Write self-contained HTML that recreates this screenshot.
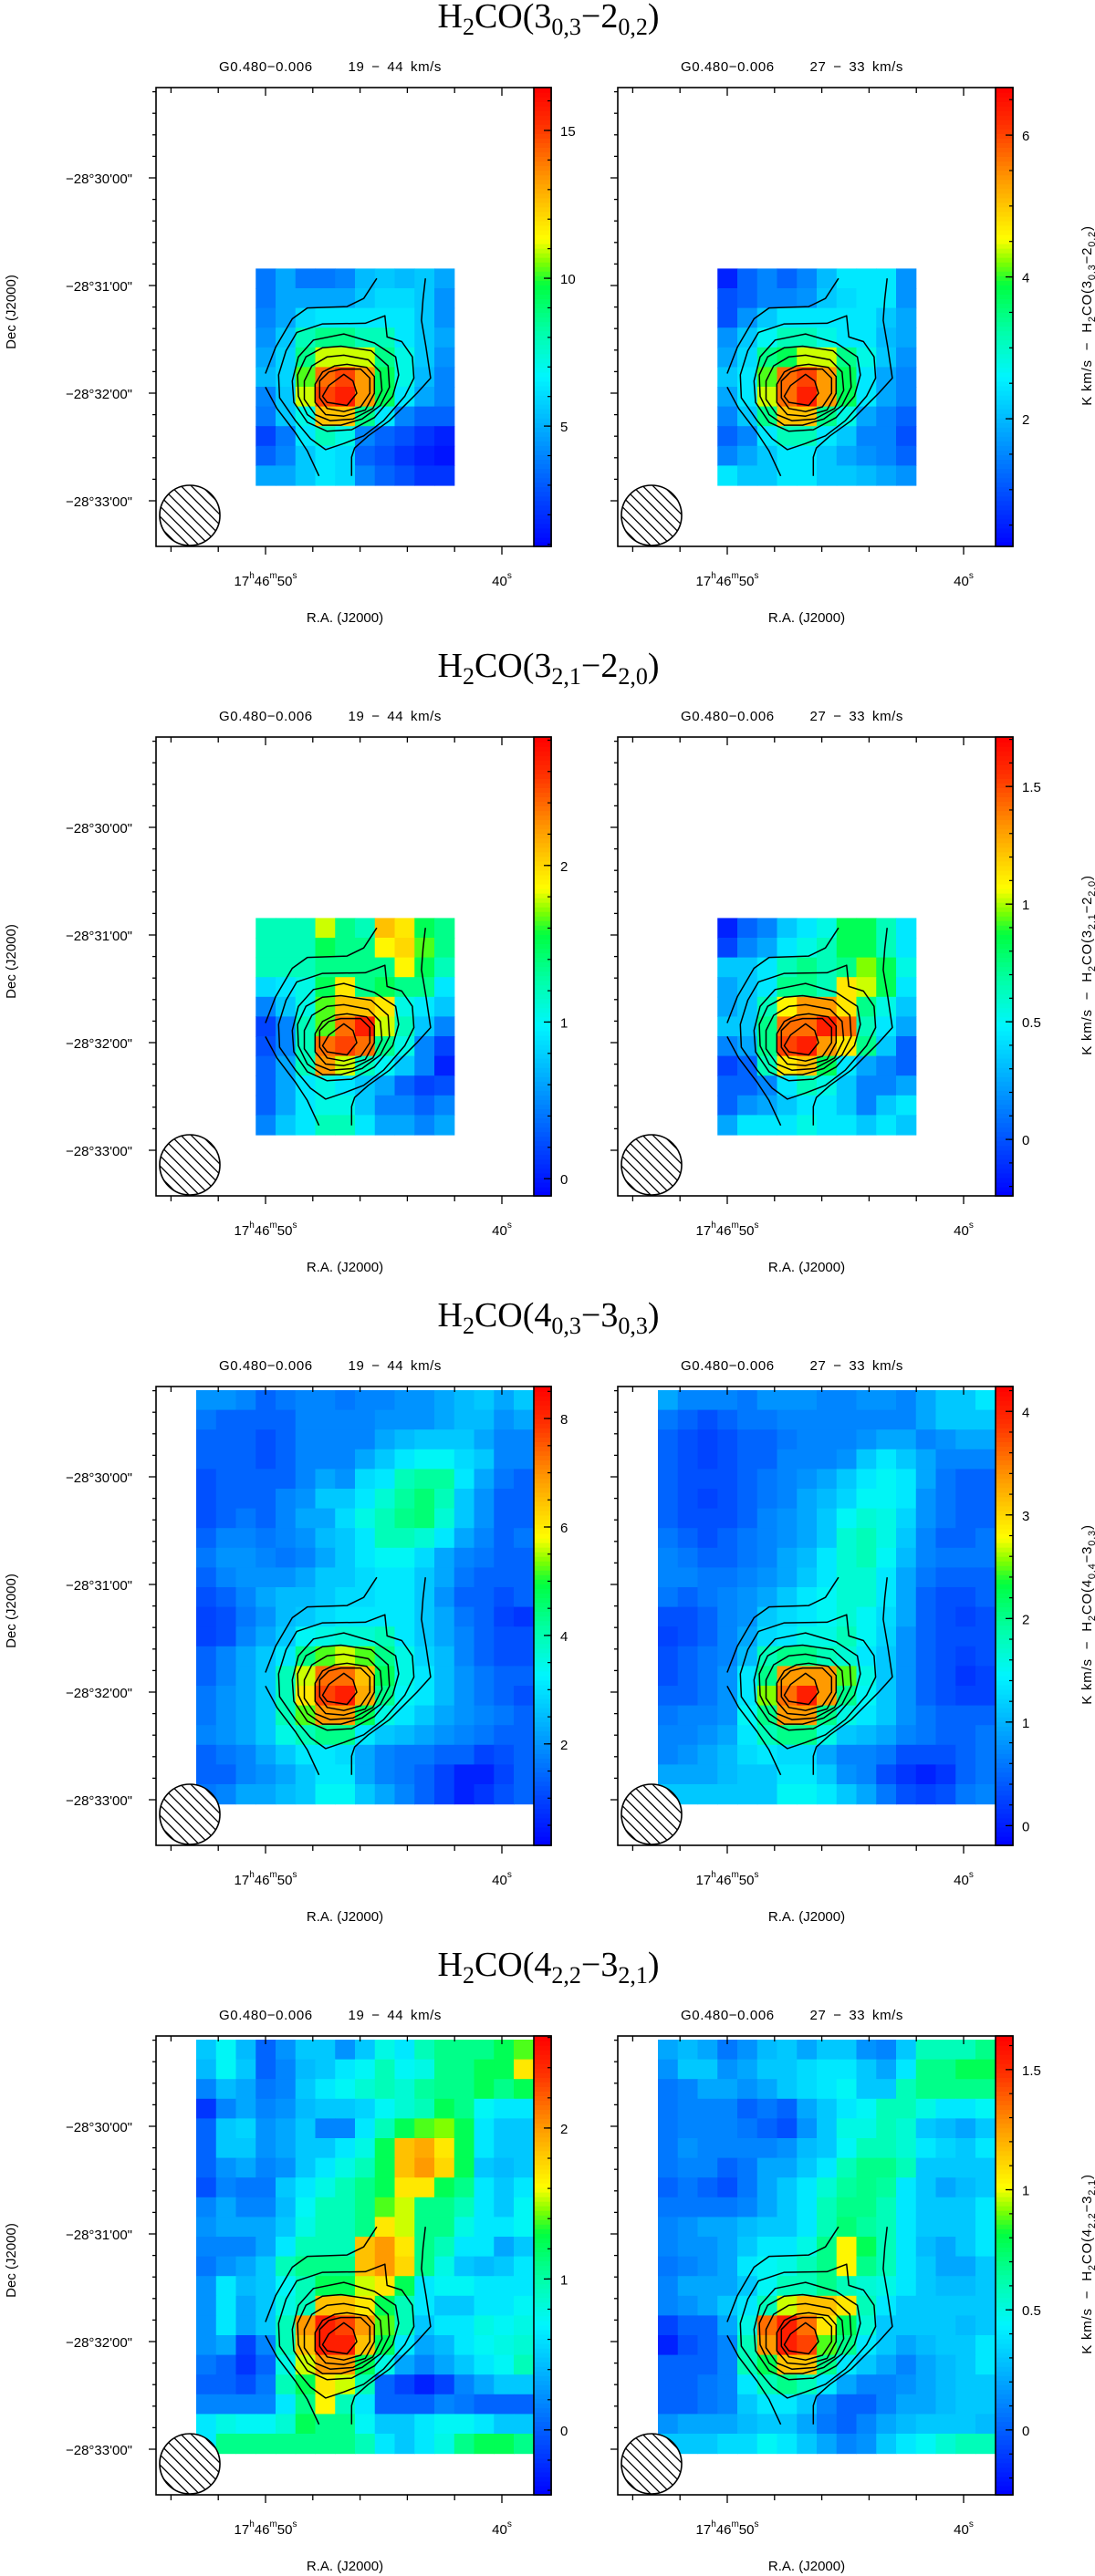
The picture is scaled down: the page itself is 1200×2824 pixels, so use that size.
<!DOCTYPE html>
<html><head><meta charset="utf-8">
<style>
html,body{margin:0;padding:0;background:#fff;}
svg{display:block;}
.ax{font-family:"Liberation Sans",sans-serif;font-size:15px;fill:#000;}
.ttl{font-family:"Liberation Serif",serif;font-size:38px;fill:#000;}
</style></head>
<body>
<svg id="fig" width="1200" height="2824" viewBox="0 0 1200 2824" xmlns="http://www.w3.org/2000/svg">
<defs>
<clipPath id="beamclip"><circle cx="0" cy="0" r="33"/></clipPath>
</defs>
</svg>
<script>
// ---- data (normalized intensity levels 0..1 of each colour-bar range) ----
const m30a=[[.18,.25,.18,.18,.2,.28,.3,.28,.3,.25],[.18,.25,.25,.25,.25,.3,.33,.33,.3,.22],[.2,.25,.33,.35,.35,.35,.35,.35,.3,.22],[.22,.3,.45,.5,.5,.45,.45,.35,.3,.25],[.25,.32,.5,.65,.65,.65,.5,.4,.3,.22],[.28,.32,.6,.85,.9,.8,.55,.4,.28,.2],[.2,.3,.65,.9,.95,.8,.55,.35,.25,.2],[.18,.3,.4,.75,.75,.5,.35,.2,.15,.15],[.1,.18,.35,.45,.4,.2,.15,.12,.08,.05],[.15,.2,.3,.35,.33,.15,.12,.08,.05,.03],[.25,.25,.3,.35,.33,.2,.15,.12,.08,.08]];
const m30b=[[.05,.15,.2,.15,.2,.28,.35,.35,.35,.22],[.12,.15,.2,.2,.22,.3,.33,.35,.35,.22],[.12,.22,.3,.35,.35,.35,.35,.35,.3,.25],[.22,.3,.38,.45,.45,.4,.35,.35,.28,.25],[.25,.33,.5,.55,.65,.65,.5,.4,.3,.22],[.3,.35,.6,.85,.9,.8,.55,.35,.25,.2],[.25,.35,.65,.85,.95,.8,.55,.35,.25,.2],[.2,.3,.5,.75,.75,.5,.4,.25,.2,.15],[.15,.2,.35,.45,.45,.35,.3,.2,.2,.12],[.2,.25,.3,.35,.35,.3,.25,.22,.2,.15],[.35,.3,.3,.35,.35,.3,.3,.28,.25,.22]];
const m32a=[[.45,.45,.45,.65,.5,.45,.75,.7,.55,.5],[.45,.45,.45,.55,.5,.5,.68,.72,.6,.5],[.45,.45,.45,.5,.5,.5,.5,.68,.55,.45],[.33,.35,.4,.55,.7,.5,.55,.5,.5,.35],[.2,.3,.4,.6,.75,.75,.7,.4,.35,.3],[.1,.2,.45,.6,.85,.95,.65,.45,.3,.2],[.12,.2,.45,.85,.9,.85,.5,.4,.2,.1],[.15,.25,.45,.8,.65,.45,.38,.3,.2,.05],[.15,.25,.35,.4,.35,.3,.25,.15,.1,.12],[.15,.25,.35,.4,.4,.3,.2,.2,.15,.2],[.2,.3,.35,.45,.45,.35,.25,.25,.2,.25]];
const m32b=[[.05,.15,.2,.3,.35,.4,.55,.55,.45,.35],[.1,.2,.25,.35,.4,.45,.55,.55,.45,.35],[.3,.3,.35,.45,.5,.45,.5,.62,.55,.4],[.25,.3,.35,.5,.5,.45,.7,.65,.55,.35],[.25,.3,.45,.68,.8,.8,.7,.5,.4,.3],[.3,.3,.5,.85,.85,.95,.85,.45,.35,.25],[.2,.25,.5,.9,.95,.8,.7,.5,.3,.15],[.1,.15,.45,.7,.75,.55,.35,.25,.2,.15],[.15,.15,.2,.35,.45,.4,.3,.2,.2,.25],[.15,.22,.25,.3,.35,.35,.3,.2,.3,.35],[.25,.35,.35,.35,.4,.35,.35,.3,.35,.3]];
const m40a=[[.22,.22,.2,.15,.18,.2,.2,.18,.2,.2,.22,.22,.25,.28,.3,.25,.3],[.18,.15,.15,.15,.15,.2,.2,.2,.2,.22,.22,.22,.25,.28,.28,.22,.25],[.15,.15,.15,.12,.15,.2,.2,.2,.2,.25,.28,.3,.3,.3,.25,.2,.2],[.15,.15,.15,.12,.15,.2,.2,.2,.25,.3,.35,.38,.38,.33,.3,.2,.2],[.12,.15,.15,.15,.15,.2,.25,.22,.33,.35,.45,.48,.48,.35,.25,.18,.15],[.12,.15,.15,.15,.2,.22,.3,.3,.35,.42,.48,.52,.45,.3,.22,.15,.15],[.12,.15,.18,.15,.2,.25,.25,.33,.4,.45,.5,.52,.42,.3,.22,.15,.15],[.15,.2,.2,.18,.2,.22,.28,.3,.35,.45,.45,.42,.35,.25,.2,.15,.18],[.18,.22,.22,.2,.18,.2,.25,.3,.35,.38,.38,.33,.25,.2,.18,.15,.15],[.15,.2,.22,.22,.22,.25,.3,.3,.33,.35,.35,.3,.25,.18,.15,.15,.15],[.12,.15,.2,.25,.28,.28,.3,.33,.33,.35,.35,.3,.22,.15,.15,.12,.15],[.1,.12,.18,.22,.28,.3,.33,.35,.35,.35,.35,.3,.25,.18,.15,.1,.08],[.1,.12,.2,.25,.3,.38,.4,.42,.42,.45,.35,.3,.25,.2,.15,.12,.12],[.15,.2,.25,.3,.35,.5,.6,.65,.6,.5,.4,.32,.28,.2,.15,.12,.12],[.15,.2,.25,.3,.45,.65,.85,.85,.75,.55,.4,.35,.28,.22,.18,.15,.15],[.18,.22,.25,.3,.45,.7,.9,.95,.78,.5,.38,.35,.28,.22,.18,.15,.12],[.18,.22,.25,.3,.45,.6,.8,.8,.55,.4,.35,.3,.25,.22,.2,.18,.15],[.2,.22,.25,.3,.4,.45,.5,.5,.35,.3,.28,.25,.22,.2,.18,.15,.15],[.15,.18,.2,.25,.3,.35,.35,.33,.25,.2,.18,.18,.15,.15,.1,.12,.15],[.15,.15,.2,.22,.25,.3,.35,.35,.25,.2,.18,.15,.1,.05,.05,.1,.15],[.18,.2,.25,.25,.28,.3,.38,.38,.3,.25,.2,.15,.1,.05,.08,.12,.15]];
const m40b=[[.25,.2,.2,.2,.18,.22,.22,.22,.2,.2,.22,.22,.2,.25,.3,.3,.35],[.18,.15,.12,.15,.18,.18,.2,.2,.2,.2,.2,.2,.2,.25,.3,.3,.3],[.15,.12,.1,.12,.15,.15,.18,.2,.2,.2,.22,.25,.25,.2,.22,.25,.25],[.15,.12,.1,.12,.15,.15,.2,.2,.2,.22,.3,.35,.3,.25,.2,.2,.2],[.15,.12,.12,.12,.15,.18,.2,.22,.25,.3,.35,.38,.35,.25,.18,.15,.15],[.15,.12,.1,.12,.15,.18,.2,.25,.28,.32,.38,.38,.35,.22,.18,.15,.15],[.15,.12,.12,.12,.15,.2,.22,.25,.3,.38,.42,.4,.32,.22,.18,.15,.15],[.18,.15,.12,.15,.18,.2,.22,.25,.3,.42,.45,.4,.3,.2,.15,.15,.18],[.2,.18,.15,.15,.18,.2,.25,.28,.35,.42,.45,.38,.28,.2,.18,.18,.18],[.2,.2,.18,.18,.2,.22,.25,.3,.35,.42,.42,.35,.25,.18,.15,.15,.15],[.18,.15,.18,.2,.22,.25,.3,.35,.38,.42,.42,.35,.25,.15,.12,.12,.15],[.12,.12,.15,.2,.22,.3,.33,.35,.38,.42,.38,.33,.25,.15,.12,.1,.12],[.1,.12,.15,.2,.25,.33,.35,.4,.4,.45,.38,.32,.22,.15,.12,.12,.12],[.12,.15,.18,.2,.28,.45,.5,.5,.45,.42,.35,.3,.22,.15,.12,.1,.12],[.12,.15,.18,.22,.35,.5,.8,.8,.8,.6,.4,.3,.22,.15,.12,.08,.1],[.15,.15,.18,.22,.35,.62,.85,.95,.8,.5,.38,.3,.22,.15,.12,.1,.1],[.18,.2,.2,.22,.38,.5,.8,.8,.5,.4,.35,.3,.22,.18,.15,.15,.15],[.2,.2,.22,.25,.35,.45,.5,.5,.4,.3,.28,.25,.2,.18,.15,.15,.18],[.2,.22,.25,.28,.33,.35,.33,.33,.25,.2,.2,.18,.12,.12,.12,.15,.18],[.25,.25,.25,.28,.3,.3,.35,.35,.3,.22,.2,.12,.08,.05,.08,.15,.18],[.3,.3,.3,.3,.3,.3,.38,.38,.35,.3,.25,.18,.12,.1,.12,.18,.2]];
const m42a=[[.3,.38,.28,.15,.22,.3,.3,.22,.3,.4,.35,.45,.5,.5,.5,.55,.6],[.28,.38,.3,.15,.2,.28,.3,.35,.38,.45,.38,.4,.5,.5,.55,.55,.7],[.2,.28,.25,.18,.2,.3,.35,.38,.42,.45,.42,.48,.5,.5,.55,.5,.55],[.08,.2,.25,.2,.22,.28,.3,.3,.32,.38,.42,.45,.55,.5,.38,.35,.35],[.15,.3,.32,.22,.25,.3,.2,.2,.35,.45,.55,.6,.62,.55,.35,.3,.3],[.15,.3,.3,.22,.25,.3,.3,.35,.4,.55,.75,.78,.7,.55,.35,.3,.3],[.15,.22,.25,.2,.22,.3,.35,.4,.45,.55,.75,.8,.72,.55,.3,.28,.3],[.12,.2,.18,.18,.3,.35,.4,.45,.5,.55,.7,.7,.55,.5,.35,.3,.35],[.2,.25,.2,.2,.28,.38,.45,.45,.5,.6,.65,.5,.5,.45,.35,.3,.38],[.22,.25,.25,.25,.3,.4,.45,.45,.5,.7,.65,.5,.5,.4,.35,.35,.38],[.2,.2,.2,.25,.35,.45,.45,.45,.75,.8,.7,.5,.45,.35,.35,.25,.3],[.18,.22,.25,.3,.45,.5,.5,.5,.75,.8,.72,.5,.4,.3,.28,.3,.35],[.22,.35,.28,.3,.38,.45,.55,.55,.65,.7,.55,.35,.38,.38,.35,.35,.35],[.22,.35,.25,.3,.4,.45,.75,.75,.7,.55,.45,.35,.3,.3,.35,.35,.38],[.22,.35,.25,.3,.45,.8,.95,.9,.8,.6,.45,.3,.35,.35,.4,.38,.4],[.22,.25,.1,.2,.45,.75,.95,.95,.75,.55,.35,.25,.28,.35,.38,.4,.42],[.18,.15,.08,.15,.4,.65,.8,.8,.55,.4,.25,.2,.25,.3,.35,.38,.45],[.15,.15,.12,.18,.45,.55,.7,.65,.45,.15,.1,.05,.1,.2,.25,.3,.3],[.2,.2,.2,.2,.35,.5,.68,.45,.35,.15,.15,.15,.2,.18,.15,.15,.15],[.35,.4,.38,.38,.42,.55,.5,.5,.38,.3,.3,.35,.38,.38,.35,.3,.3],[.35,.5,.5,.5,.5,.5,.5,.5,.45,.35,.3,.35,.4,.5,.55,.55,.5]];
const m42b=[[.25,.28,.25,.18,.22,.28,.3,.25,.3,.3,.22,.2,.3,.45,.45,.45,.5],[.22,.3,.3,.22,.25,.3,.3,.33,.35,.35,.3,.25,.35,.5,.5,.55,.55],[.18,.2,.25,.25,.22,.25,.3,.33,.35,.38,.3,.3,.45,.5,.5,.5,.5],[.18,.2,.2,.2,.15,.18,.15,.25,.3,.35,.38,.45,.45,.4,.35,.35,.38],[.18,.2,.2,.2,.18,.15,.12,.22,.3,.4,.4,.45,.42,.3,.28,.25,.3],[.18,.22,.2,.2,.2,.2,.22,.28,.3,.38,.45,.45,.42,.35,.32,.3,.35],[.18,.2,.2,.15,.18,.25,.25,.3,.35,.45,.5,.5,.45,.3,.3,.3,.3],[.15,.18,.15,.12,.18,.25,.3,.35,.42,.48,.5,.48,.35,.3,.25,.28,.3],[.18,.18,.18,.18,.2,.25,.3,.35,.45,.5,.5,.45,.35,.3,.3,.3,.35],[.2,.22,.25,.25,.28,.3,.3,.35,.45,.52,.48,.45,.35,.3,.3,.3,.35],[.2,.22,.22,.25,.3,.35,.35,.4,.5,.68,.55,.45,.35,.28,.25,.3,.35],[.18,.2,.22,.25,.35,.38,.4,.45,.5,.68,.5,.45,.35,.3,.25,.25,.3],[.2,.25,.25,.25,.3,.38,.45,.45,.5,.45,.42,.4,.35,.3,.28,.28,.3],[.2,.22,.25,.3,.35,.45,.65,.75,.75,.7,.45,.35,.3,.3,.3,.3,.3],[.1,.15,.15,.25,.4,.85,.95,.85,.7,.55,.42,.3,.3,.3,.3,.28,.3],[.05,.12,.15,.2,.45,.8,.95,.9,.6,.5,.35,.3,.25,.28,.3,.3,.35],[.15,.15,.15,.2,.45,.55,.75,.75,.5,.35,.3,.25,.2,.25,.28,.3,.35],[.15,.15,.18,.2,.35,.45,.5,.45,.35,.25,.2,.2,.22,.25,.28,.3,.3],[.15,.15,.18,.2,.3,.35,.35,.3,.2,.15,.15,.2,.25,.25,.28,.3,.3],[.22,.25,.25,.25,.28,.3,.3,.25,.18,.15,.2,.25,.28,.3,.3,.3,.28],[.3,.3,.3,.33,.33,.38,.35,.3,.25,.2,.22,.3,.35,.38,.42,.45,.45]];

// colour-bar ranges and tick labels
const cbarMin=[0.93,0.2,-0.11,-0.24,0.13,-0.19,-0.43,-0.27];
const cbarMax=[16.45,6.67,2.82,1.71,8.59,4.24,2.61,1.64];
const cbarTicks=[[5,10,15],[2,4,6],[0,1,2],[0,0.5,1,1.5],[2,4,6,8],[0,1,2,3,4],[0,1,2],[0,0.5,1,1.5]];
const cbarMinor=[1,0.5,0.2,0.1,0.5,0.2,0.2,0.1];

// axes tick labels
const decTicks=[-30,-31,-32,-33];
const decLabels=["\u221228\u00b030'00\"","\u221228\u00b031'00\"","\u221228\u00b032'00\"","\u221228\u00b033'00\""];
const raTicks=[50,40];

// contour vertices (map cell units, relative to compact map origin)
const contA1=[[6.1,0.5],[5.44,1.52],[4.6,1.93],[2.6,2.0],[1.84,2.55],[1.0,4.0],[0.49,5.33]];
const contA2=[[0.49,6.02],[1.07,7.1],[2.0,8.34],[2.6,9.26],[3.19,10.53]];
const contA3=[[8.55,0.5],[8.43,1.55],[8.35,2.63],[8.58,4.0],[8.81,5.56],[8.12,6.33],[6.74,7.72],[5.67,8.49],[4.98,9.11],[4.83,9.57],[4.83,10.53]];
const contC2=[[6.51,2.4],[6.62,3.47],[7.36,3.71],[7.89,4.48],[7.97,5.56],[7.51,6.48],[6.44,7.72],[5.44,8.49],[4.44,8.88],[3.52,9.19],[2.76,8.64],[2.0,7.72],[1.2,6.56],[1.15,5.4],[1.53,4.17],[2.07,3.24],[3.37,2.81],[5.52,2.78]];
const contC3=[[4.44,3.32],[5.98,3.78],[7.05,4.48],[7.2,5.4],[6.9,6.48],[5.98,7.56],[4.83,8.18],[3.6,8.26],[2.6,7.8],[1.92,6.79],[1.84,5.71],[2.15,4.48],[2.91,3.63]];
const contC4=[[4.29,3.94],[5.82,4.17],[6.67,4.94],[6.74,6.02],[6.28,6.95],[5.36,7.64],[4.29,7.95],[3.37,7.95],[2.6,7.41],[2.15,6.48],[2.11,5.4],[2.53,4.48],[3.37,4.02]];
const contC5=[[4.44,4.4],[5.67,4.63],[6.28,5.25],[6.36,6.18],[5.9,7.1],[4.9,7.64],[3.75,7.72],[2.99,7.41],[2.45,6.64],[2.45,5.71],[2.83,4.94],[3.6,4.48]];
const contC6=[[4.6,4.86],[5.59,5.02],[5.98,5.48],[5.98,6.33],[5.52,7.18],[4.44,7.49],[3.52,7.41],[2.99,6.79],[2.99,5.87],[3.37,5.25],[3.98,4.94]];
const contC7=[[4.29,5.1],[5.29,5.1],[5.75,5.56],[5.75,6.33],[5.29,7.02],[4.44,7.26],[3.6,7.1],[3.22,6.56],[3.22,5.71],[3.68,5.25]];
const contC8=[[4.44,5.37],[4.9,5.71],[5.09,6.33],[4.6,6.95],[3.6,6.79],[3.37,6.48],[3.68,5.94]];

const rowTitles=[["3","0,3","2","0,2"],["3","2,1","2","2,0"],["4","0,3","3","0,3"],["4","2,2","3","2,1"]];
const cbarTitles=[["3","0,3","2","0,2"],["3","2,1","2","2,0"],["4","0,4","3","0,3"],["4","2,2","3","2,1"]];
const velRanges=["19 - 44 km/s","27 - 33 km/s"];
</script>
<script>
const NS="http://www.w3.org/2000/svg";
const svg=document.getElementById('fig');
function el(tag,attrs,parent){const e=document.createElementNS(NS,tag);for(const k in attrs)e.setAttribute(k,attrs[k]);(parent||svg).appendChild(e);return e;}
const stops=[[0,[0,0,255]],[0.15,[0,100,255]],[0.27,[0,180,255]],[0.37,[0,245,255]],[0.47,[0,255,168]],[0.57,[0,255,64]],[0.62,[128,255,0]],[0.67,[255,255,0]],[0.8,[255,154,0]],[0.92,[255,48,0]],[1,[255,0,0]]];
function cmap(t){t=Math.max(0,Math.min(1,t));for(let i=1;i<stops.length;i++){if(t<=stops[i][0]){const a=stops[i-1],b=stops[i];const u=(t-a[0])/(b[0]-a[0]);const c=a[1].map((v,j)=>Math.round(v+(b[1][j]-v)*u));return `rgb(${c[0]},${c[1]},${c[2]})`;}}return 'rgb(255,0,0)';}

const rowTop=[96,808,1520,2232];
const panelLeft=[171,677];
const FW=414, CBW=19, FH=503;
const CELLW=21.75, CELLH=21.6;
const maps=[m30a,m30b,m32a,m32b,m40a,m40b,m42a,m42b];
const DEC0=99, DECSTEP=118;
const RA50=120, RASTEP=25.9;

function decY(top,arcmin){return top+DEC0+(-30-arcmin)*DECSTEP;}
function raX(left,sec){return left+RA50+(50-sec)*RASTEP;}
function gridX(left,c){return left+44+c*CELLW;}
function gridY(top,r){return top+4+r*CELLH;}

for(let row=0;row<4;row++){
  const top=rowTop[row];
  const rt=rowTitles[row];
  const t=el('text',{x:601,y:top-66,'text-anchor':'middle',class:'ttl'});
  
  
  t.innerHTML=`H<tspan font-size="26" dy="8">2</tspan><tspan dy="-8">CO(${rt[0]}</tspan><tspan font-size="26" dy="8">${rt[1]}</tspan><tspan dy="-8">\u2212${rt[2]}</tspan><tspan font-size="26" dy="8">${rt[3]}</tspan><tspan dy="-8">)</tspan>`;
  for(let side=0;side<2;side++){
    const idx=row*2+side;
    const left=panelLeft[side];
    const g=el('g',{});
    
    
    const st=el('text',{x:left+69,y:top-18,class:'ax','font-size':'16','letter-spacing':'0.6','word-spacing':'3'},g);
    
    
    st.textContent='G0.480\u22120.006\u00a0\u00a0\u00a0\u00a0\u00a0'+velRanges[side].replace(/-/,'\u2212');
    const m=maps[idx];
    const small=m.length===11;
    const c0=small?3:0, r0=small?9:0;
    const vmin=cbarMin[idx], vmax=cbarMax[idx];
    for(let r=0;r<m.length;r++)for(let c=0;c<m[r].length;c++){
      const val=vmin+m[r][c]*(vmax-vmin);
      const x=gridX(left,c0+c), y=gridY(top,r0+r);
      const w=Math.min(CELLW+0.6,left+FW-x);
      const cell=el('rect',{x:x.toFixed(2),y:y.toFixed(2),width:w.toFixed(2),height:(CELLH+0.6).toFixed(2),fill:cmap((val-vmin)/(vmax-vmin))},g);
      
      
    }
    const conts=[[contA1,false],[contA2,false],[contA3,false],[contC2,true],[contC3,true],[contC4,true],[contC5,true],[contC6,true],[contC7,true],[contC8,true]];
    conts.forEach(([pts,closed])=>{
      const d=pts.map((p,i)=>(i?'L':'M')+gridX(left,3+p[0]).toFixed(1)+' '+gridY(top,9+p[1]).toFixed(1)).join(' ')+(closed?' Z':'');
      const pth=el('path',{d:d,fill:'none',stroke:'#000','stroke-width':'1.5','stroke-linejoin':'round'},g);
      
      
    });
    const bg=el('g',{transform:`translate(${left+37},${top+469})`},g);
    
    
    el('circle',{cx:0,cy:0,r:33,fill:'#fff'},bg);
    const hg=el('g',{'clip-path':'url(#beamclip)'},bg);
    for(let k=-6;k<=6;k++){el('line',{x1:-40+k*8*1.414,y1:-40,x2:40+k*8*1.414,y2:40,stroke:'#000','stroke-width':'1.3'},hg);}
    el('circle',{cx:0,cy:0,r:33,fill:'none',stroke:'#000','stroke-width':'1.6'},bg);
    const fr=el('rect',{x:left,y:top,width:FW+CBW,height:FH,fill:'none',stroke:'#000','stroke-width':'1.6'},g);
    
    
    for(let k=-2;k<=20;k++){
      const y=top+DEC0+(k-5)*DECSTEP/5;
      if(y<top+3||y>top+FH-3)continue;
      const major=((k%5)+5)%5===0;
      el('line',{x1:left-(major?8:4),y1:y,x2:left,y2:y,stroke:'#000','stroke-width':'1.3'},g);
    }
    decTicks.forEach((d,i)=>{
      if(side===0){
        const tl=el('text',{x:left-26,y:decY(top,d)+6,'text-anchor':'end',class:'ax','font-size':'16'},g);
        
        
        tl.textContent=decLabels[i];
      }
    });
    for(let s=54;s>=39;s-=2){
      const x=raX(left,s);
      if(x<left+3||x>left+FW-3)continue;
      const major=(s%10===0);
      el('line',{x1:x,y1:top,x2:x,y2:top+(major?9:6),stroke:'#000','stroke-width':'1.3'},g);
      el('line',{x1:x,y1:top+FH,x2:x,y2:top+FH+(major?9:6),stroke:'#000','stroke-width':'1.3'},g);
    }
    raTicks.forEach(s=>{
      const tl=el('text',{x:raX(left,s),y:top+546,'text-anchor':'middle',class:'ax','font-size':'16'},g);
      
      
      tl.innerHTML= s===50 ? '17<tspan font-size="10" dy="-8">h</tspan><tspan dy="8">46</tspan><tspan font-size="10" dy="-8">m</tspan><tspan dy="8">50</tspan><tspan font-size="10" dy="-8">s</tspan>'
                           : '40<tspan font-size="10" dy="-8">s</tspan>';
    });
    const xl=el('text',{x:left+207,y:top+586,'text-anchor':'middle',class:'ax','font-size':'16'},g);
    
    
    xl.textContent='R.A. (J2000)';
    if(side===0){
      const yl=el('text',{x:0,y:0,transform:`translate(17,${top+246}) rotate(-90)`,'text-anchor':'middle',class:'ax','font-size':'15'},g);
      
      
      yl.textContent='Dec  (J2000)';
    }
    const cb=el('g',{},g);
    
    
    const cbx=left+FW;
    const N=100;
    for(let i=0;i<N;i++){
      const y=top+FH-(i+1)*FH/N;
      el('rect',{x:cbx,y:y.toFixed(2),width:CBW,height:(FH/N+0.6).toFixed(2),fill:cmap((i+0.5)/N)},cb);
    }
    el('rect',{x:cbx,y:top,width:CBW,height:FH,fill:'none',stroke:'#000','stroke-width':'1.6'},cb);
    const cy=v=>top+FH-(v-vmin)/(vmax-vmin)*FH;
    const mstep=cbarMinor[idx];
    for(let v=Math.ceil(vmin/mstep)*mstep;v<=vmax;v+=mstep){
      const y=cy(v);
      el('line',{x1:cbx+CBW-4,y1:y,x2:cbx+CBW,y2:y,stroke:'#000','stroke-width':'1.2'},cb);
    }
    cbarTicks[idx].forEach(v=>{
      const y=cy(v);
      el('line',{x1:cbx+CBW-8,y1:y,x2:cbx+CBW,y2:y,stroke:'#000','stroke-width':'1.3'},cb);
      const tl=el('text',{x:cbx+CBW+10,y:y+6,class:'ax','font-size':'16'},cb);
      
      
      tl.textContent=String(v);
    });
    if(side===1){
      const ct=cbarTitles[row];
      const ctl=el('text',{x:0,y:0,transform:`translate(1196,${top+250}) rotate(-90)`,'text-anchor':'middle',class:'ax','font-size':'16','letter-spacing':'0.8'},g);
      
      
      ctl.innerHTML=`K km/s \u00a0\u2212\u00a0 H<tspan font-size="11" dy="4">2</tspan><tspan dy="-4">CO(${ct[0]}</tspan><tspan font-size="11" dy="4">${ct[1]}</tspan><tspan dy="-4">\u2212${ct[2]}</tspan><tspan font-size="11" dy="4">${ct[3]}</tspan><tspan dy="-4">)</tspan>`;
    }
  }
}
</script>
</body></html>
